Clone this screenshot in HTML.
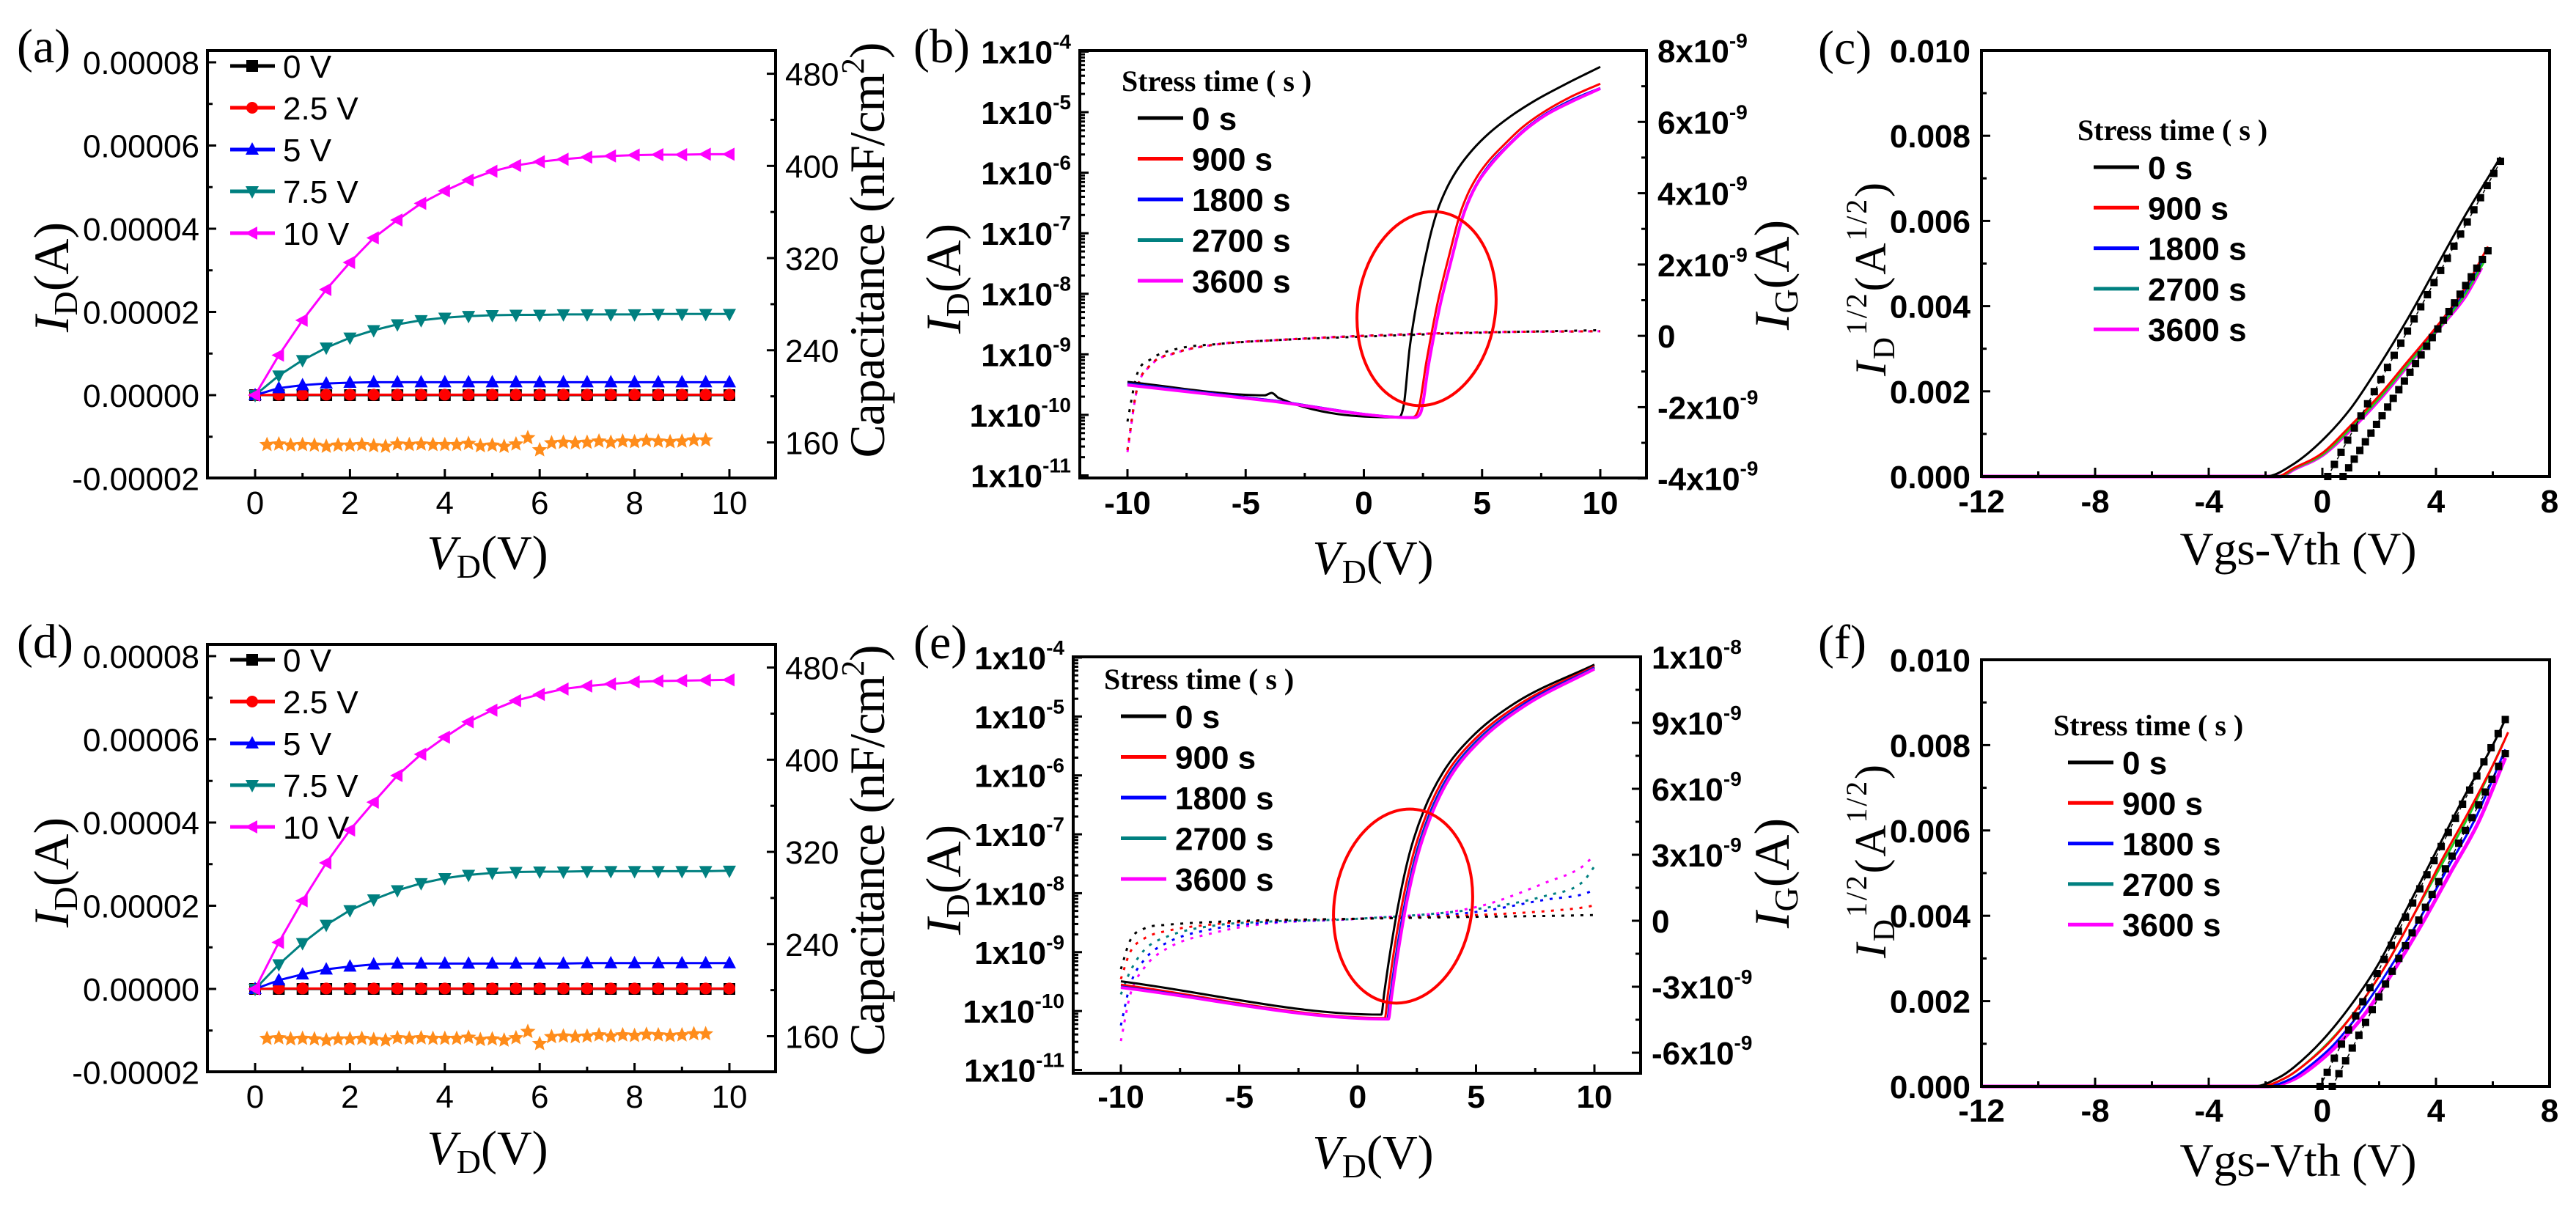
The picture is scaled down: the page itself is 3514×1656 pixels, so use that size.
<!DOCTYPE html>
<html><head><meta charset="utf-8">
<style>
html,body{margin:0;padding:0;background:#fff;}
svg{display:block;}
.ser{font-family:"Liberation Serif",serif;}
.sans{font-family:"Liberation Sans",sans-serif;}
</style></head>
<body>
<svg id="fig" xmlns="http://www.w3.org/2000/svg" width="3514" height="1656" viewBox="0 0 3514 1656">
<rect x="0" y="0" width="3514" height="1656" fill="#fff"/>
<g id="marks"></g>
<g id="static">
  <text class="ser" x="23" y="85" font-size="66">(a)</text>
  <text class="ser" x="1246" y="85" font-size="66">(b)</text>
  <text class="ser" x="2480" y="87" font-size="66">(c)</text>
  <text class="ser" x="23" y="897" font-size="66">(d)</text>
  <text class="ser" x="1246" y="898" font-size="66">(e)</text>
  <text class="ser" x="2480" y="898" font-size="66">(f)</text>

  <text class="ser" transform="translate(93,378) rotate(-90)" text-anchor="middle" font-size="68"><tspan font-style="italic">I</tspan><tspan font-size="46" dy="12">D</tspan><tspan dy="-12">(A)</tspan></text>
  <text class="ser" transform="translate(93,1190) rotate(-90)" text-anchor="middle" font-size="68"><tspan font-style="italic">I</tspan><tspan font-size="46" dy="12">D</tspan><tspan dy="-12">(A)</tspan></text>
  <text class="ser" transform="translate(1206,341) rotate(-90)" text-anchor="middle" font-size="68" textLength="567">Capacitance (nF/cm<tspan font-size="44" dy="-28">2</tspan><tspan dy="28">)</tspan></text>
  <text class="ser" transform="translate(1206,1160) rotate(-90)" text-anchor="middle" font-size="68" textLength="561">Capacitance (nF/cm<tspan font-size="44" dy="-28">2</tspan><tspan dy="28">)</tspan></text>
  <text class="ser" x="665" y="776" text-anchor="middle" font-size="66"><tspan font-style="italic">V</tspan><tspan font-size="46" dy="12">D</tspan><tspan dy="-12">(V)</tspan></text>
  <text class="ser" x="665" y="1588" text-anchor="middle" font-size="66"><tspan font-style="italic">V</tspan><tspan font-size="46" dy="12">D</tspan><tspan dy="-12">(V)</tspan></text>

  <text class="ser" transform="translate(1310,380) rotate(-90)" text-anchor="middle" font-size="68"><tspan font-style="italic">I</tspan><tspan font-size="46" dy="12">D</tspan><tspan dy="-12">(A)</tspan></text>
  <text class="ser" transform="translate(1310,1200) rotate(-90)" text-anchor="middle" font-size="68"><tspan font-style="italic">I</tspan><tspan font-size="46" dy="12">D</tspan><tspan dy="-12">(A)</tspan></text>
  <text class="ser" transform="translate(2440,375) rotate(-90)" text-anchor="middle" font-size="68"><tspan font-style="italic">I</tspan><tspan font-size="46" dy="12">G</tspan><tspan dy="-12">(A)</tspan></text>
  <text class="ser" transform="translate(2440,1191) rotate(-90)" text-anchor="middle" font-size="68"><tspan font-style="italic">I</tspan><tspan font-size="46" dy="12">G</tspan><tspan dy="-12">(A)</tspan></text>
  <text class="ser" x="1873" y="783" text-anchor="middle" font-size="66"><tspan font-style="italic">V</tspan><tspan font-size="46" dy="12">D</tspan><tspan dy="-12">(V)</tspan></text>
  <text class="ser" x="1873" y="1594" text-anchor="middle" font-size="66"><tspan font-style="italic">V</tspan><tspan font-size="46" dy="12">D</tspan><tspan dy="-12">(V)</tspan></text>

  <text class="ser" transform="translate(2572,381) rotate(-90)" text-anchor="middle" font-size="60" textLength="264"><tspan font-style="italic">I</tspan><tspan font-size="42" dy="12">D</tspan><tspan font-size="40" dy="-38">1/2</tspan><tspan dy="26">(A</tspan><tspan font-size="40" dy="-26">1/2</tspan><tspan dy="26">)</tspan></text>
  <text class="ser" transform="translate(2572,1175) rotate(-90)" text-anchor="middle" font-size="60" textLength="264"><tspan font-style="italic">I</tspan><tspan font-size="42" dy="12">D</tspan><tspan font-size="40" dy="-38">1/2</tspan><tspan dy="26">(A</tspan><tspan font-size="40" dy="-26">1/2</tspan><tspan dy="26">)</tspan></text>
  <text class="ser" x="3135" y="770" text-anchor="middle" font-size="64" textLength="323">Vgs-Vth (V)</text>
  <text class="ser" x="3135" y="1604" text-anchor="middle" font-size="64" textLength="323">Vgs-Vth (V)</text>

  <text class="ser" x="1530" y="124" font-size="40" font-weight="bold">Stress time ( s )</text>
  <text class="ser" x="2834" y="191" font-size="40" font-weight="bold">Stress time ( s )</text>
  <text class="ser" x="1506" y="940" font-size="40" font-weight="bold">Stress time ( s )</text>
  <text class="ser" x="2801" y="1003" font-size="40" font-weight="bold">Stress time ( s )</text>
</g>
</svg>
<script>
// ---------- data: panels (a)/(d) output curves ----------
const vdOut = [0,0.5,1,1.5,2,2.5,3,3.5,4,4.5,5,5.5,6,6.5,7,7.5,8,8.5,9,9.5,10];
const a0V  = [0,0,0,0,0,0,0,0,0,0,0,0,0,0,0,0,0,0,0,0,0];
const a25V = [0,0.01,0.01,0.01,0.01,0.01,0.01,0.01,0.01,0.01,0.01,0.01,0.01,0.01,0.01,0.01,0.01,0.01,0.01,0.01,0.01];
const a5V  = [0,0.17,0.24,0.28,0.30,0.31,0.31,0.31,0.31,0.31,0.31,0.31,0.31,0.31,0.31,0.31,0.31,0.31,0.31,0.31,0.31];
const a75V = [0,0.47,0.84,1.14,1.38,1.56,1.70,1.80,1.86,1.90,1.92,1.93,1.93,1.94,1.94,1.94,1.94,1.95,1.95,1.95,1.95];
const a10V = [0,0.96,1.8,2.54,3.19,3.78,4.21,4.61,4.91,5.17,5.38,5.52,5.61,5.67,5.72,5.75,5.77,5.78,5.78,5.79,5.79];
const d0V  = [0,0,0,0,0,0,0,0,0,0,0,0,0,0,0,0,0,0,0,0,0];
const d25V = [0,0.01,0.01,0.01,0.01,0.01,0.01,0.01,0.01,0.01,0.01,0.01,0.01,0.01,0.01,0.01,0.01,0.01,0.01,0.01,0.01];
const d5V  = [0,0.21,0.35,0.47,0.54,0.59,0.61,0.61,0.61,0.61,0.61,0.61,0.61,0.61,0.62,0.62,0.62,0.62,0.62,0.62,0.62];
const d75V = [0,0.59,1.10,1.54,1.89,2.15,2.37,2.54,2.66,2.74,2.79,2.81,2.82,2.82,2.83,2.83,2.83,2.83,2.83,2.83,2.84];
const d10V = [0,1.12,2.12,3.03,3.82,4.49,5.13,5.64,6.05,6.42,6.70,6.93,7.08,7.21,7.28,7.33,7.38,7.40,7.41,7.42,7.43];
const capV = [0.25,0.5,0.75,1,1.25,1.5,1.75,2,2.25,2.5,2.75,3,3.25,3.5,3.75,4,4.25,4.5,4.75,5,5.25,5.5,5.75,6,6.25,6.5,6.75,7,7.25,7.5,7.75,8,8.25,8.5,8.75,9,9.25,9.5];
const capC = [158,158.5,157.5,158,157.5,156.5,157.5,157.5,158,157,156.5,158.5,158,158.5,158,158,158,159,157,157.5,156.5,158.5,164,153.5,159.5,160,159.5,160,161,160,161,160.5,161.5,161,160.5,161,162,162];
const outLegend = ['0 V','2.5 V','5 V','7.5 V','10 V'];
const aXTicks = [0,2,4,6,8,10];
const aYTicks = [-0.00002,0,0.00002,0.00004,0.00006,0.00008];
const aYLabels = ['-0.00002','0.00000','0.00002','0.00004','0.00006','0.00008'];
const capTicks = [160,240,320,400,480];

// ---------- data: panels (b)/(e) transfer curves ----------
const bX0 = [-10,-4.2,-3.9,-3.6,1.46,1.7,1.93,2.29,2.76,3.1,3.5,4.0,4.6,5.3,6.2,7.3,8.6,10];
const bI0 = [3.5e-10,2.1e-10,2.3e-10,1.9e-10,9.1e-11,1.55e-10,1.2e-9,9.5e-9,7.6e-8,2.3e-7,5.5e-7,1.2e-6,2.4e-6,4.5e-6,8.5e-6,1.6e-5,3.0e-5,5.6e-5];
const bX1 = [-10,-4,2.0,2.29,2.65,3.12,3.6,4.07,4.4,4.78,5.3,5.97,6.7,7.6,8.7,10];
const bI1 = [3.3e-10,1.75e-10,9.1e-11,1.15e-10,7.8e-10,7.1e-9,4.2e-8,2.1e-7,4.5e-7,8.5e-7,1.6e-6,3.0e-6,5.6e-6,1.0e-5,1.75e-5,2.95e-5];
const bX2 = [-10,-4,2.1,2.4,2.75,3.22,3.7,4.17,4.5,4.88,5.4,6.07,6.8,7.7,8.8,10];
const bI2 = [3.3e-10,1.75e-10,9.1e-11,1.1e-10,7.5e-10,6.5e-9,3.8e-8,1.9e-7,4.1e-7,7.8e-7,1.5e-6,2.8e-6,5.2e-6,9.4e-6,1.6e-5,2.5e-5];
const bX3 = [-10,-4,2.1,2.4,2.75,3.22,3.7,4.17,4.5,4.88,5.4,6.07,6.8,7.7,8.8,10];
const bI3 = [3.2e-10,1.72e-10,9.0e-11,1.1e-10,7.4e-10,6.4e-9,3.7e-8,1.85e-7,4.0e-7,7.6e-7,1.45e-6,2.75e-6,5.1e-6,9.2e-6,1.55e-5,2.45e-5];
const bX4 = [-10,-4,2.1,2.4,2.75,3.22,3.7,4.17,4.5,4.88,5.4,6.07,6.8,7.7,8.8,10];
const bI4 = [3.1e-10,1.7e-10,9.0e-11,1.08e-10,7.2e-10,6.3e-9,3.6e-8,1.8e-7,3.9e-7,7.5e-7,1.4e-6,2.7e-6,5.0e-6,9.0e-6,1.5e-5,2.45e-5];
const bGX = [-10,-9.6,-9,-8,-6,-4,0,5,10];
const bG0 = [-2.4,-1.09,-0.65,-0.38,-0.22,-0.13,-0.02,0.09,0.16];
const bG1 = [-3.2,-1.5,-0.8,-0.48,-0.22,-0.13,0,0.1,0.13];
const bG2 = [-3.2,-1.5,-0.8,-0.48,-0.22,-0.13,0,0.1,0.13];
const bG3 = [-3.2,-1.5,-0.8,-0.48,-0.22,-0.13,0,0.1,0.13];
const bG4 = [-3.26,-1.52,-0.82,-0.49,-0.22,-0.13,0,0.1,0.13];
const eX0 = [-10,1.0,1.12,1.36,1.72,2.19,2.78,3.6,4.8,6.7,10];
const eI0 = [3.2e-10,8.7e-11,2.0e-10,9.1e-10,6.5e-9,4.7e-8,2.45e-7,1.12e-6,4.4e-6,1.74e-5,7.6e-5];
const eX1 = [-10,1.15,1.27,1.5,1.86,2.33,2.92,3.74,4.94,6.84,10];
const eI1 = [2.8e-10,7.6e-11,1.8e-10,8.5e-10,6e-9,4.3e-8,2.25e-7,1.05e-6,4.1e-6,1.62e-5,7.1e-5];
const eX2 = [-10,1.25,1.37,1.6,1.96,2.43,3.02,3.84,5.04,6.94,10];
const eI2 = [2.6e-10,7.4e-11,1.7e-10,8e-10,5.7e-9,4.1e-8,2.15e-7,1e-6,3.9e-6,1.55e-5,6.8e-5];
const eX3 = [-10,1.28,1.4,1.63,1.99,2.46,3.06,3.88,5.08,6.98,10];
const eI3 = [2.55e-10,7.3e-11,1.65e-10,7.8e-10,5.5e-9,4e-8,2.1e-7,9.7e-7,3.8e-6,1.5e-5,6.6e-5];
const eX4 = [-10,1.3,1.42,1.66,2.02,2.5,3.1,3.92,5.12,7.02,10];
const eI4 = [2.5e-10,7.3e-11,1.6e-10,7.5e-10,5.4e-9,3.9e-8,2.05e-7,9.5e-7,3.7e-6,1.48e-5,6.4e-5];
const eGX = [-10,-9.6,-9,-8,-6,-4,0,5,8,9.5,10];
const eG0 = [-2.2,-0.88,-0.35,-0.18,-0.05,0.02,0.09,0.18,0.22,0.25,0.26];
const eG1 = [-2.65,-1.41,-0.8,-0.45,-0.15,0,0.09,0.26,0.44,0.6,0.7];
const eG2 = [-4.76,-2.9,-1.76,-0.97,-0.35,-0.1,0.09,0.4,0.97,1.2,1.41];
const eG3 = [-3.35,-2.29,-1.32,-0.7,-0.21,-0.05,0.09,0.53,1.15,1.76,2.47];
const eG4 = [-5.47,-3.35,-2.12,-1.23,-0.53,-0.15,0.09,0.62,1.76,2.47,3.0];
const stressLegend = ['0 s','900 s','1800 s','2700 s','3600 s'];
const bXTicks = [-10,-5,0,5,10];
const logTicks = [-11,-10,-9,-8,-7,-6,-5,-4];
const bRTicks = [-4e-9,-2e-9,0,2e-9,4e-9,6e-9,8e-9];
const bRLabels = ['-4x10|-9','-2x10|-9','0','2x10|-9','4x10|-9','6x10|-9','8x10|-9'];
const eRTicks = [-6e-9,-3e-9,0,3e-9,6e-9,9e-9,12e-9];
const eRLabels = ['-6x10|-9','-3x10|-9','0','3x10|-9','6x10|-9','9x10|-9','1x10|-8'];

// ---------- data: panels (c)/(f) sqrt(ID) ----------
const cX0 = [-12,-2,-1,0,1,2,3,4,5,6,6.27];
const cY0 = [0,0,0.0003,0.00085,0.0016,0.0026,0.0037,0.0049,0.0061,0.0072,0.0075];
const cX1 = [-12,-1.6,-1,0,1,2,3,4,5,5.83];
const cY1 = [0,0,0.0002,0.00055,0.0012,0.0019,0.0027,0.0035,0.0044,0.0054];
const cX2 = [-12,-1.5,-1,0,1,2,3,4,5,5.7];
const cY2 = [0,0,0.00018,0.00052,0.00115,0.00185,0.00265,0.00345,0.0043,0.0051];
const cX3 = [-12,-1.5,-1,0,1,2,3,4,5,5.7];
const cY3 = [0,0,0.00018,0.00051,0.00113,0.00183,0.00262,0.0034,0.00425,0.00505];
const cX4 = [-12,-1.5,-1,0,1,2,3,4,5,5.6];
const cY4 = [0,0,0.00017,0.0005,0.0011,0.0018,0.0026,0.0034,0.0042,0.0049];
const cFitAX = [0.19,6.27], cFitAY = [0,0.0074];
const cFitBX = [0.73,5.83], cFitBY = [0,0.0053];
const fX0 = [-12,-2.4,-1.5,-1,0,1,2,3,4,5,6,6.44];
const fY0 = [0,0,0.00022,0.00045,0.00108,0.0019,0.0029,0.0042,0.0055,0.0068,0.008,0.0086];
const fX1 = [-12,-2.2,-1.3,-0.8,0.2,1.2,2.2,3.2,4.2,5.2,6.2,6.54];
const fY1 = [0,0,0.0002,0.00042,0.001,0.0018,0.0028,0.004,0.0053,0.0065,0.0078,0.0083];
const fX2 = [-12,-2,-1.1,-0.6,0.4,1.4,2.4,3.4,4.4,5.4,6.44];
const fY2 = [0,0,0.00018,0.0004,0.00098,0.0018,0.0028,0.0039,0.0051,0.0063,0.0079];
const fX3 = [-12,-2.2,-1.3,-0.8,0.2,1.2,2.2,3.2,4.2,5.2,6.4];
const fY3 = [0,0,0.0002,0.00042,0.00102,0.0018,0.0028,0.004,0.0052,0.0064,0.0081];
const fX4 = [-12,-1.9,-1,-0.5,0.5,1.5,2.5,3.5,4.5,5.5,6.44];
const fY4 = [0,0,0.00017,0.00038,0.00095,0.0017,0.0027,0.0038,0.005,0.0062,0.0077];
const fFitAX = [-0.08,6.44], fFitAY = [0,0.0086];
const fFitBX = [0.35,6.44], fFitBY = [0,0.0078];
const cXTicks = [-12,-8,-4,0,4,8];
const cYTicks = [0,0.002,0.004,0.006,0.008,0.01];
const cYLabels = ['0.000','0.002','0.004','0.006','0.008','0.010'];

// ---------- rendering ----------
const NS='http://www.w3.org/2000/svg';
const root=document.getElementById('marks');
const COLS=['#000000','#ff0000','#0000ff','#008080','#ff00ff'];
function mk(tag,attrs,name,parent){
  const el=document.createElementNS(NS,tag);
  for(const k in attrs) el.setAttribute(k,attrs[k]);
  
  
  (parent||root).appendChild(el);
  return el;
}
function lin(d0,p0,d1,p1){return v=>p0+(v-d0)*(p1-p0)/(d1-d0);}
function logs(d0,p0,d1,p1){const f=lin(Math.log10(d0),p0,Math.log10(d1),p1);return v=>f(Math.log10(v));}
function poly(xs,ys,X,Y,style,name){
  const pts=xs.map((x,i)=>X(x).toFixed(1)+','+Y(ys[i]).toFixed(1)).join(' ');
  return mk('polyline',Object.assign({points:pts,fill:'none','stroke-linejoin':'round'},style),name);
}
// monotone cubic (Fritsch-Carlson) smooth path in pixel space
function smooth(xs,ys,X,Y,style,name){
  const px=xs.map(X), py=ys.map(Y), n=px.length;
  const d=[],m=new Array(n).fill(0);
  for(let i=0;i<n-1;i++) d.push((py[i+1]-py[i])/(px[i+1]-px[i]));
  m[0]=d[0]; m[n-1]=d[n-2];
  for(let i=1;i<n-1;i++) m[i]=(d[i-1]*d[i]<=0)?0:(d[i-1]+d[i])/2;
  for(let i=0;i<n-1;i++){
    if(d[i]===0){m[i]=0;m[i+1]=0;continue;}
    const a=m[i]/d[i], b=m[i+1]/d[i], s=a*a+b*b;
    if(s>9){const t=3/Math.sqrt(s);m[i]=t*a*d[i];m[i+1]=t*b*d[i];}
  }
  let p='M'+px[0].toFixed(1)+','+py[0].toFixed(1);
  for(let i=0;i<n-1;i++){
    const h=(px[i+1]-px[i])/3;
    p+=' C'+(px[i]+h).toFixed(1)+','+(py[i]+m[i]*h).toFixed(1)+' '+(px[i+1]-h).toFixed(1)+','+(py[i+1]-m[i+1]*h).toFixed(1)+' '+px[i+1].toFixed(1)+','+py[i+1].toFixed(1);
  }
  return mk('path',Object.assign({d:p,fill:'none','stroke-linejoin':'round'},style),name);
}
function frame(b,name){mk('rect',{x:b.x,y:b.y,width:b.w,height:b.h,fill:'none',stroke:'#000','stroke-width':4},name);}
function tickX(b,vals,X,len,name){vals.forEach(v=>{const x=X(v);mk('line',{x1:x,y1:b.y+b.h,x2:x,y2:b.y+b.h-len,stroke:'#000','stroke-width':3},name);});}
function tickYL(b,vals,Y,len,name){vals.forEach(v=>{const y=Y(v);mk('line',{x1:b.x,y1:y,x2:b.x+len,y2:y,stroke:'#000','stroke-width':3},name);});}
function tickYR(b,vals,Y,len,name){vals.forEach(v=>{const y=Y(v);mk('line',{x1:b.x+b.w,y1:y,x2:b.x+b.w-len,y2:y,stroke:'#000','stroke-width':3},name);});}
function txt(x,y,s,attrs,name){const t=mk('text',Object.assign({x:x,y:y,'font-family':'"Liberation Sans",sans-serif','font-size':44},attrs),name);t.textContent=s;return t;}
function supTxt(x,y,s,attrs,name){
  const t=mk('text',Object.assign({x:x,y:y,'font-family':'"Liberation Sans",sans-serif','font-size':44,'font-weight':'bold'},attrs),name);
  const p=s.split('|');
  const a=document.createElementNS(NS,'tspan');a.textContent=p[0];t.appendChild(a);
  if(p[1]){const b2=document.createElementNS(NS,'tspan');b2.setAttribute('font-size','28');b2.setAttribute('dy','-20');b2.textContent=p[1];t.appendChild(b2);}
  return t;
}
function marker(kind,x,y,col,name){
  const s=8;
  if(kind==='sq') return mk('rect',{x:x-s,y:y-s,width:2*s,height:2*s,fill:col},name);
  if(kind==='ci') return mk('circle',{cx:x,cy:y,r:s,fill:col},name);
  let p;
  if(kind==='up') p=[[x,y-s-2],[x-s-1,y+s-1],[x+s+1,y+s-1]];
  else if(kind==='dn') p=[[x,y+s+2],[x-s-1,y-s+1],[x+s+1,y-s+1]];
  else p=[[x-s-2,y],[x+s-1,y-s-1],[x+s-1,y+s+1]];
  return mk('polygon',{points:p.map(q=>q.join(',')).join(' '),fill:col},name);
}
function star(x,y,r,col,name){
  const p=[];for(let k=0;k<10;k++){const a=-Math.PI/2+k*Math.PI/5;const rr=k%2?r*0.45:r;p.push((x+rr*Math.cos(a)).toFixed(1)+','+(y+rr*Math.sin(a)).toFixed(1));}
  return mk('polygon',{points:p.join(' '),fill:col},name);
}

// ---- output panels (a) & (d) ----
function outPanel(tag,b,X,Y,YR,series,lab){
  const MK=['sq','ci','up','dn','lt'];
  series.forEach((ys,si)=>{
    poly(vdOut,ys.map(v=>v*1e-5),X,Y,{stroke:COLS[si],'stroke-width':3},tag+'-curve-'+si);
    vdOut.forEach((x,i)=>marker(MK[si],X(x),Y(ys[i]*1e-5),COLS[si],tag+'-point'));
  });
  capV.forEach((x,i)=>star(X(x),YR(capC[i]),11,'#ff8c1a',tag+'-capacitance-point'));
  frame(b,tag+'-plot-frame');
  tickX(b,aXTicks,X,12,tag+'-x-tick');
  tickX(b,[1,3,5,7,9],X,7,tag+'-x-minor-tick');
  tickYL(b,aYTicks,Y,12,tag+'-y-tick');
  tickYL(b,[-0.00001,0.00001,0.00003,0.00005,0.00007],Y,7,tag+'-y-minor-tick');
  tickYR(b,capTicks,YR,12,tag+'-right-y-tick');
  tickYR(b,[200,280,360,440],YR,7,tag+'-right-y-minor-tick');
  aXTicks.forEach(v=>txt(X(v),lab.xl,String(v),{'text-anchor':'middle'},tag+'-x-tick-label'));
  aYTicks.forEach((v,i)=>txt(272,Y(v)+16,aYLabels[i],{'text-anchor':'end'},tag+'-y-tick-label'));
  capTicks.forEach(v=>txt(1071,YR(v)+16,String(v),{},tag+'-right-y-tick-label'));
  outLegend.forEach((s,i)=>{
    const y=lab.ly+i*57;
    mk('line',{x1:314,y1:y,x2:375,y2:y,stroke:COLS[i],'stroke-width':5},tag+'-legend-line');
    marker(MK[i],344,y,COLS[i],tag+'-legend-marker');
    txt(386,y+16,s,{},tag+'-legend-label');
  });
}
outPanel('a',{x:283,y:69,w:775,h:583},lin(0,348,10,995),lin(0,539,0.00008,85),lin(160,603.5,480,100.6),[a0V,a25V,a5V,a75V,a10V],{xl:701,ly:90});
outPanel('d',{x:283,y:879,w:775,h:583},lin(0,348,10,995),lin(0,1349,0.00008,895),lin(160,1413.5,480,910.6),[d0V,d25V,d5V,d75V,d10V],{xl:1511,ly:900});

// ---- transfer panels (b) & (e) ----
function trPanel(tag,b,X,Y,YR,ids,igs,gx,rT,rL,lab){
  igs.slice().reverse().forEach((g,ri)=>{const si=igs.length-1-ri;
    smooth(gx,g.map(v=>v*1e-9),X,YR,{stroke:COLS[si],'stroke-width':3,'stroke-dasharray':'4 9'},tag+'-gate-current-'+si);});
  ids.forEach((s,si)=>smooth(s[0],s[1],X,Y,{stroke:COLS[si],'stroke-width':si===4?4:3},tag+'-drain-current-'+si));
  mk('ellipse',{cx:lab.ex,cy:lab.ey,rx:94,ry:133,fill:'none',stroke:'#ff0000','stroke-width':4,transform:'rotate(8 '+lab.ex+' '+lab.ey+')'},tag+'-highlight-ellipse');
  frame(b,tag+'-plot-frame');
  tickX(b,bXTicks,X,12,tag+'-x-tick');
  tickX(b,[-7.5,-2.5,2.5,7.5],X,7,tag+'-x-minor-tick');
  tickYL(b,logTicks.map(k=>Math.pow(10,k)),Y,12,tag+'-y-tick');
  const mins=[];logTicks.slice(0,-1).forEach(k=>{for(let m=2;m<10;m++)mins.push(m*Math.pow(10,k));});
  tickYL(b,mins,Y,7,tag+'-y-minor-tick');
  tickYR(b,rT,YR,12,tag+'-right-y-tick');
  tickYR(b,rT.slice(0,-1).map((v,i)=>(v+rT[i+1])/2),YR,7,tag+'-right-y-minor-tick');
  bXTicks.forEach(v=>txt(X(v),lab.xl,String(v),{'text-anchor':'middle','font-weight':'bold'},tag+'-x-tick-label'));
  logTicks.forEach(k=>supTxt(b.x-12,Y(Math.pow(10,k))+16,'1x10|'+k,{'text-anchor':'end'},tag+'-y-tick-label'));
  rT.forEach((v,i)=>supTxt(b.x+b.w+15,YR(v)+16,rL[i],{},tag+'-right-y-tick-label'));
  stressLegend.forEach((s,i)=>{
    const y=lab.ly+i*55.5;
    mk('line',{x1:lab.lx,y1:y,x2:lab.lx+62,y2:y,stroke:COLS[i],'stroke-width':5},tag+'-legend-line');
    txt(lab.lx+74,y+16,s,{'font-weight':'bold'},tag+'-legend-label');
  });
}
trPanel('b',{x:1473,y:69,w:773,h:583},lin(-10,1538,10,2183),logs(1e-11,648.5,1e-4,70.4),lin(-4e-9,652.7,8e-9,69),
  [[bX0,bI0],[bX1,bI1],[bX2,bI2],[bX3,bI3],[bX4,bI4]],[bG0,bG1,bG2,bG3,bG4],bGX,bRTicks,bRLabels,{xl:701,ly:161,lx:1552,ex:1946,ey:421});
trPanel('e',{x:1464,y:896,w:774,h:568},lin(-10,1529,10,2175),logs(1e-11,1459.5,1e-4,897),lin(0,1256,12e-9,896),
  [[eX0,eI0],[eX1,eI1],[eX2,eI2],[eX3,eI3],[eX4,eI4]],[eG0,eG1,eG2,eG3,eG4],eGX,eRTicks,eRLabels,{xl:1511,ly:977,lx:1529,ex:1914,ey:1236});

// ---- sqrt panels (c) & (f) ----
function sqPanel(tag,b,X,Y,ser,fits,lab){
  const cc=['#000000','#ff0000','#0000ff','#22cc22','#ff00ff'];
  [4,2,3,1,0].forEach(si=>smooth(ser[si][0],ser[si][1],X,Y,{stroke:cc[si],'stroke-width':si===4?5:3},tag+'-curve-'+si));
  fits.forEach((f,fi)=>{
    poly(f[0],f[1],X,Y,{stroke:'#000','stroke-width':1.5,'stroke-dasharray':'5 4'},tag+'-fit-line-'+fi);
    const n=26;
    for(let k=0;k<=n;k++){const t=k/n;const xv=f[0][0]+(f[0][1]-f[0][0])*t;const yv=f[1][0]+(f[1][1]-f[1][0])*t;
      mk('rect',{x:X(xv)-5,y:Y(yv)-5,width:10,height:10,fill:'#000'},tag+'-fit-marker');}
  });
  frame(b,tag+'-plot-frame');
  tickX(b,cXTicks,X,12,tag+'-x-tick');
  tickX(b,[-10,-6,-2,2,6],X,7,tag+'-x-minor-tick');
  tickYL(b,cYTicks,Y,12,tag+'-y-tick');
  tickYL(b,[0.001,0.003,0.005,0.007,0.009],Y,7,tag+'-y-minor-tick');
  cXTicks.forEach(v=>txt(X(v),lab.xl,String(v),{'text-anchor':'middle','font-weight':'bold'},tag+'-x-tick-label'));
  cYTicks.forEach((v,i)=>txt(2688,Y(v)+16,cYLabels[i],{'text-anchor':'end','font-weight':'bold'},tag+'-y-tick-label'));
  stressLegend.forEach((s,i)=>{
    const y=lab.ly+i*55.3;
    mk('line',{x1:lab.lx,y1:y,x2:lab.lx+62,y2:y,stroke:COLS[i],'stroke-width':5},tag+'-legend-line');
    txt(lab.lx+74,y+16,s,{'font-weight':'bold'},tag+'-legend-label');
  });
}
sqPanel('c',{x:2703,y:69,w:775,h:581},lin(-12,2703,8,3478),lin(0,650,0.01,69),
  [[cX0,cY0],[cX1,cY1],[cX2,cY2],[cX3,cY3],[cX4,cY4]],[[cFitAX,cFitAY],[cFitBX,cFitBY]],{xl:699,ly:228,lx:2856});
sqPanel('f',{x:2703,y:900,w:775,h:582},lin(-12,2703,8,3478),lin(0,1482,0.01,900),
  [[fX0,fY0],[fX1,fY1],[fX2,fY2],[fX3,fY3],[fX4,fY4]],[[fFitAX,fFitAY],[fFitBX,fFitBY]],{xl:1530,ly:1040,lx:2821});
</script>
</body></html>
